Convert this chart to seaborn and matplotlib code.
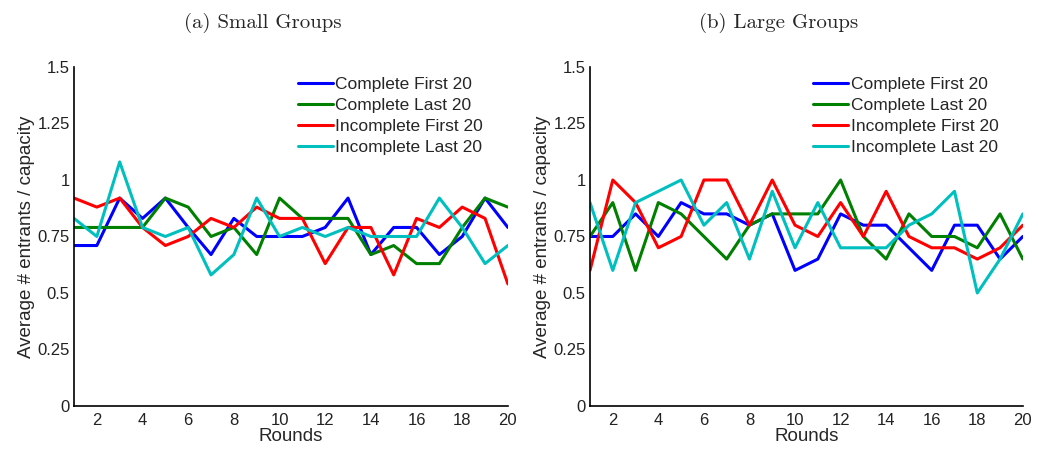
import pandas as pd
import matplotlib.pyplot as plt
import seaborn as sns

# data
rounds = list(range(1, 21))
series_names = ["Complete First 20", "Complete Last 20", "Incomplete First 20", "Incomplete Last 20"]

small_complete_first = [0.71, 0.71, 0.92, 0.83, 0.92, 0.79, 0.67, 0.83, 0.75, 0.75,
                        0.75, 0.79, 0.92, 0.67, 0.79, 0.79, 0.67, 0.75, 0.92, 0.79]
small_complete_last = [0.79, 0.79, 0.79, 0.79, 0.92, 0.88, 0.75, 0.79, 0.67, 0.92,
                       0.83, 0.83, 0.83, 0.67, 0.71, 0.63, 0.63, 0.79, 0.92, 0.88]
small_incomplete_first = [0.92, 0.88, 0.92, 0.79, 0.71, 0.75, 0.83, 0.79, 0.88, 0.83,
                          0.83, 0.63, 0.79, 0.79, 0.58, 0.83, 0.79, 0.88, 0.83, 0.54]
small_incomplete_last = [0.83, 0.75, 1.08, 0.79, 0.75, 0.79, 0.58, 0.67, 0.92, 0.75,
                         0.79, 0.75, 0.79, 0.75, 0.75, 0.75, 0.92, 0.79, 0.63, 0.71]

large_complete_first = [0.75, 0.75, 0.85, 0.75, 0.90, 0.85, 0.85, 0.80, 0.85, 0.60,
                        0.65, 0.85, 0.80, 0.80, 0.70, 0.60, 0.80, 0.80, 0.65, 0.75]
large_complete_last = [0.75, 0.90, 0.60, 0.90, 0.85, 0.75, 0.65, 0.80, 0.85, 0.85,
                       0.85, 1.00, 0.75, 0.65, 0.85, 0.75, 0.75, 0.70, 0.85, 0.65]
large_incomplete_first = [0.60, 1.00, 0.90, 0.70, 0.75, 1.00, 1.00, 0.80, 1.00, 0.80,
                          0.75, 0.90, 0.75, 0.95, 0.75, 0.70, 0.70, 0.65, 0.70, 0.80]
large_incomplete_last = [0.90, 0.60, 0.90, 0.95, 1.00, 0.80, 0.90, 0.65, 0.95, 0.70,
                         0.90, 0.70, 0.70, 0.70, 0.80, 0.85, 0.95, 0.50, 0.65, 0.85]

y_ticks = [0, 0.25, 0.5, 0.75, 1, 1.25, 1.5]
y_tick_labels = ["0", "0.25", "0.5", "0.75", "1", "1.25", "1.5"]
x_ticks = list(range(2, 21, 2))
titles = ["(a) Small Groups", "(b) Large Groups"]

palette = dict(zip(series_names, ["#0000ff", "#008000", "#ff0000", "#00bfbf"]))


def to_long(values):
    frames = []
    for name, vals in zip(series_names, values):
        frames.append(pd.DataFrame({"Rounds": rounds, "value": vals, "series": name}))
    return pd.concat(frames, ignore_index=True)


small_df = to_long([small_complete_first, small_complete_last,
                    small_incomplete_first, small_incomplete_last])
large_df = to_long([large_complete_first, large_complete_last,
                    large_incomplete_first, large_incomplete_last])

sns.set_style("white")
plt.rcParams["font.family"] = ["Liberation Sans", "DejaVu Sans"]

fig = plt.figure(figsize=(10.38, 4.49), dpi=100)
ax1 = fig.add_axes([0.0713, 0.0958, 0.418, 0.755])
ax2 = fig.add_axes([0.5684, 0.0958, 0.417, 0.755])

for ax, df, title in zip([ax1, ax2], [small_df, large_df], titles):
    sns.lineplot(data=df, x="Rounds", y="value", hue="series", palette=palette,
                 hue_order=series_names, linewidth=2.2, ax=ax)
    ax.set_xlim(1, 20)
    ax.set_ylim(0, 1.5)
    ax.set_xticks(x_ticks)
    ax.set_yticks(y_ticks)
    ax.set_yticklabels(y_tick_labels)
    ax.tick_params(axis="both", labelsize=12, direction="in", length=3, colors="#222222")
    ax.tick_params(axis="x", pad=5)
    ax.tick_params(axis="y", pad=3)
    ax.set_xlabel("Rounds", fontsize=13.5, labelpad=0)
    ax.set_ylabel("Average # entrants / capacity", fontsize=13.5, labelpad=2)
    for side in ["top", "right"]:
        ax.spines[side].set_visible(False)
    for side in ["left", "bottom"]:
        ax.spines[side].set_color("black")
        ax.spines[side].set_linewidth(1.2)
    ax.set_title(title, fontsize=15, family=["cmr10", "Liberation Serif"], x=0.435, pad=28)
    ax.legend(loc="upper left", bbox_to_anchor=(0.5, 0.99), frameon=False,
              fontsize=12.5, handlelength=2.0, handletextpad=0.15,
              labelspacing=0.33, borderaxespad=0)

fig.savefig("out.png", dpi=100)
